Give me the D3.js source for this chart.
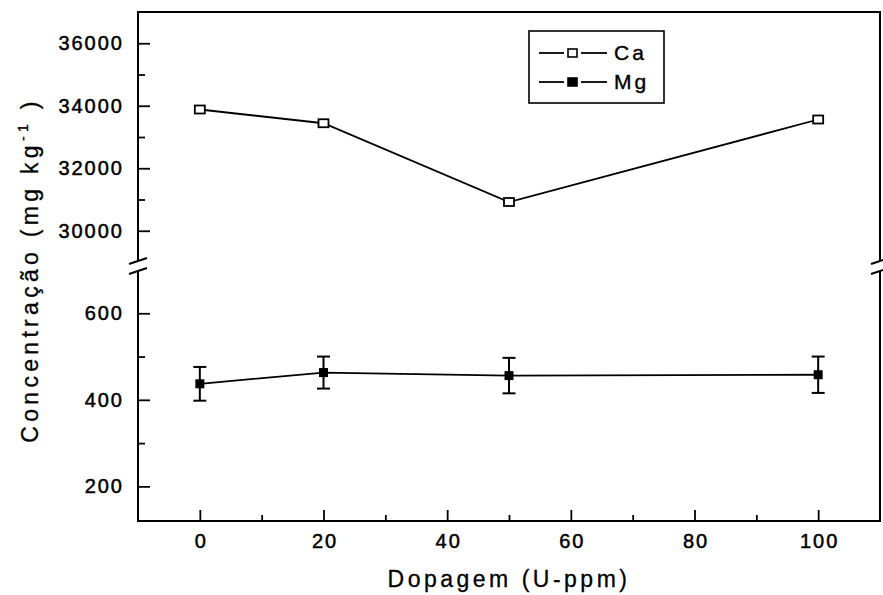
<!DOCTYPE html>
<html>
<head>
<meta charset="utf-8">
<script src="https://cdn.jsdelivr.net/npm/d3@7"></script>
<style>
  html, body { margin: 0; padding: 0; background: #fff; }
  svg { display: block; font-family: "Liberation Sans", Arial, Helvetica, sans-serif; }
</style>
</head>
<body>
<svg id="chart" width="883" height="595"></svg>
<script>
// Doping levels (U-ppm)
const dopagem = [0, 20, 50, 100];
// Calcium concentration (mg/kg)
const caValues = [33880, 33440, 30920, 33560];
// Magnesium concentration (mg/kg) and its error
const mgValues = [437, 463, 456, 458];
const mgErrors = [39, 37, 41, 42];

const xTicks = [0, 20, 40, 60, 80, 100];
const xMinor = [10, 30, 50, 70, 90];
const yUpperTicks = [30000, 32000, 34000, 36000];
const yUpperMinor = [31000, 33000, 35000];
const yLowerTicks = [200, 400, 600];
const yLowerMinor = [300, 500];

const svg = d3.select("#chart");

const plotL = 138, plotR = 880, plotT = 12, plotB = 521;
const breakLo = 270, breakHi = 262;

const x = d3.scaleLinear().domain([-10, 110]).range([plotL, plotR]);
const yUp = d3.scaleLinear().domain([29000, 37000]).range([breakHi, plotT]);
const yLo = d3.scaleLinear().domain([120, 700]).range([plotB, breakLo]);

const ink = "#000";
const tickFont = 20;

// Frame with the axis break on both vertical sides
const frame = svg.append("g").attr("stroke", ink).attr("stroke-width", 2).attr("fill", "none");
frame.append("path").attr("d", `M${plotL},${breakHi - 1}V${plotT}H${plotR}V${breakHi - 1}`);
frame.append("path").attr("d", `M${plotL},${breakLo + 1}V${plotB}H${plotR}V${breakLo + 1}`);

// Break marks
[plotL, plotR].forEach(bx => {
  [breakHi - 1, breakLo + 1].forEach(by => {
    svg.append("line")
      .attr("x1", bx - 9).attr("y1", by + 3)
      .attr("x2", bx + 9).attr("y2", by - 3)
      .attr("stroke", ink).attr("stroke-width", 2);
  });
});

function styleAxis(g) {
  g.select(".domain").remove();
  g.selectAll(".tick line").attr("stroke", ink).attr("stroke-width", 1.8);
  g.selectAll(".tick text")
    .attr("fill", ink)
    .attr("stroke", ink).attr("stroke-width", 0.5)
    .attr("font-size", tickFont)
    .attr("letter-spacing", "2px");
}

// X axis
svg.append("g")
  .attr("transform", `translate(0,${plotB})`)
  .call(d3.axisBottom(x).tickValues(xTicks).tickSize(-11).tickPadding(13).tickFormat(d3.format("d")))
  .call(styleAxis)
  .call(g => g.selectAll(".tick text").attr("dx", "1px"));
svg.append("g")
  .attr("transform", `translate(0,${plotB})`)
  .call(d3.axisBottom(x).tickValues(xMinor).tickSize(-6).tickFormat(""))
  .call(styleAxis);

// Y axis, upper segment
svg.append("g")
  .attr("transform", `translate(${plotL},0)`)
  .call(d3.axisLeft(yUp).tickValues(yUpperTicks).tickSize(-12).tickPadding(14).tickFormat(d3.format("d")))
  .call(styleAxis);
svg.append("g")
  .attr("transform", `translate(${plotL},0)`)
  .call(d3.axisLeft(yUp).tickValues(yUpperMinor).tickSize(-7).tickFormat(""))
  .call(styleAxis);

// Y axis, lower segment
svg.append("g")
  .attr("transform", `translate(${plotL},0)`)
  .call(d3.axisLeft(yLo).tickValues(yLowerTicks).tickSize(-12).tickPadding(14).tickFormat(d3.format("d")))
  .call(styleAxis);
svg.append("g")
  .attr("transform", `translate(${plotL},0)`)
  .call(d3.axisLeft(yLo).tickValues(yLowerMinor).tickSize(-7).tickFormat(""))
  .call(styleAxis);

// Axis titles
svg.append("text")
  .attr("x", (x(0) + x(100)) / 2).attr("y", 587)
  .attr("text-anchor", "middle")
  .attr("font-size", 23).attr("letter-spacing", "3.5px")
  .attr("fill", ink).attr("stroke", ink).attr("stroke-width", 0.3)
  .text("Dopagem (U-ppm)");

const yTitle = svg.append("text")
  .attr("transform", `translate(38,${270}) rotate(-90)`)
  .attr("text-anchor", "middle")
  .attr("font-size", 23).attr("letter-spacing", "4.3px")
  .attr("fill", ink).attr("stroke", ink).attr("stroke-width", 0.3);
yTitle.append("tspan").text("Concentração (mg kg");
yTitle.append("tspan").attr("font-size", 14).attr("dy", -10).text("-1");
yTitle.append("tspan").attr("dy", 10).text(" )");

// Ca series
const caPts = dopagem.map((d, i) => [x(d), yUp(caValues[i])]);
svg.append("path")
  .attr("d", d3.line()(caPts))
  .attr("fill", "none").attr("stroke", ink).attr("stroke-width", 1.8);
svg.append("g").selectAll("rect")
  .data(caPts).join("rect")
  .attr("x", d => d[0] - 5).attr("y", d => d[1] - 4)
  .attr("width", 10).attr("height", 8)
  .attr("fill", "#fff").attr("stroke", ink).attr("stroke-width", 1.8);

// Mg series
const mgPts = dopagem.map((d, i) => [x(d), yLo(mgValues[i])]);
svg.append("path")
  .attr("d", d3.line()(mgPts))
  .attr("fill", "none").attr("stroke", ink).attr("stroke-width", 1.8);

const eb = svg.append("g").attr("stroke", ink).attr("stroke-width", 2);
dopagem.forEach((d, i) => {
  const cx = x(d);
  const yHi = yLo(mgValues[i] + mgErrors[i]);
  const yLw = yLo(mgValues[i] - mgErrors[i]);
  eb.append("line").attr("x1", cx).attr("x2", cx).attr("y1", yHi).attr("y2", yLw);
  eb.append("line").attr("x1", cx - 6.5).attr("x2", cx + 6.5).attr("y1", yHi).attr("y2", yHi);
  eb.append("line").attr("x1", cx - 6.5).attr("x2", cx + 6.5).attr("y1", yLw).attr("y2", yLw);
});
svg.append("g").selectAll("rect")
  .data(mgPts).join("rect")
  .attr("x", d => d[0] - 4.5).attr("y", d => d[1] - 4.5)
  .attr("width", 9).attr("height", 9)
  .attr("fill", ink);

// Legend
const lg = svg.append("g");
lg.append("rect")
  .attr("x", 529).attr("y", 31).attr("width", 135).attr("height", 72)
  .attr("fill", "#fff").attr("stroke", ink).attr("stroke-width", 1.6);
const legendItems = [
  { name: "Ca", y: 53, filled: false },
  { name: "Mg", y: 82, filled: true }
];
legendItems.forEach(it => {
  lg.append("line").attr("x1", 539).attr("x2", 564).attr("y1", it.y).attr("y2", it.y)
    .attr("stroke", ink).attr("stroke-width", 1.8);
  lg.append("line").attr("x1", 581).attr("x2", 607).attr("y1", it.y).attr("y2", it.y)
    .attr("stroke", ink).attr("stroke-width", 1.8);
  lg.append("rect")
    .attr("x", 568).attr("y", it.y - 4).attr("width", 9).attr("height", 8)
    .attr("fill", it.filled ? ink : "#fff").attr("stroke", ink).attr("stroke-width", 1.6);
  lg.append("text")
    .attr("x", 614).attr("y", it.y + 7)
    .attr("font-size", 21).attr("letter-spacing", "3px")
    .attr("fill", ink).attr("stroke", ink).attr("stroke-width", 0.4)
    .text(it.name);
});
</script>
</body>
</html>
